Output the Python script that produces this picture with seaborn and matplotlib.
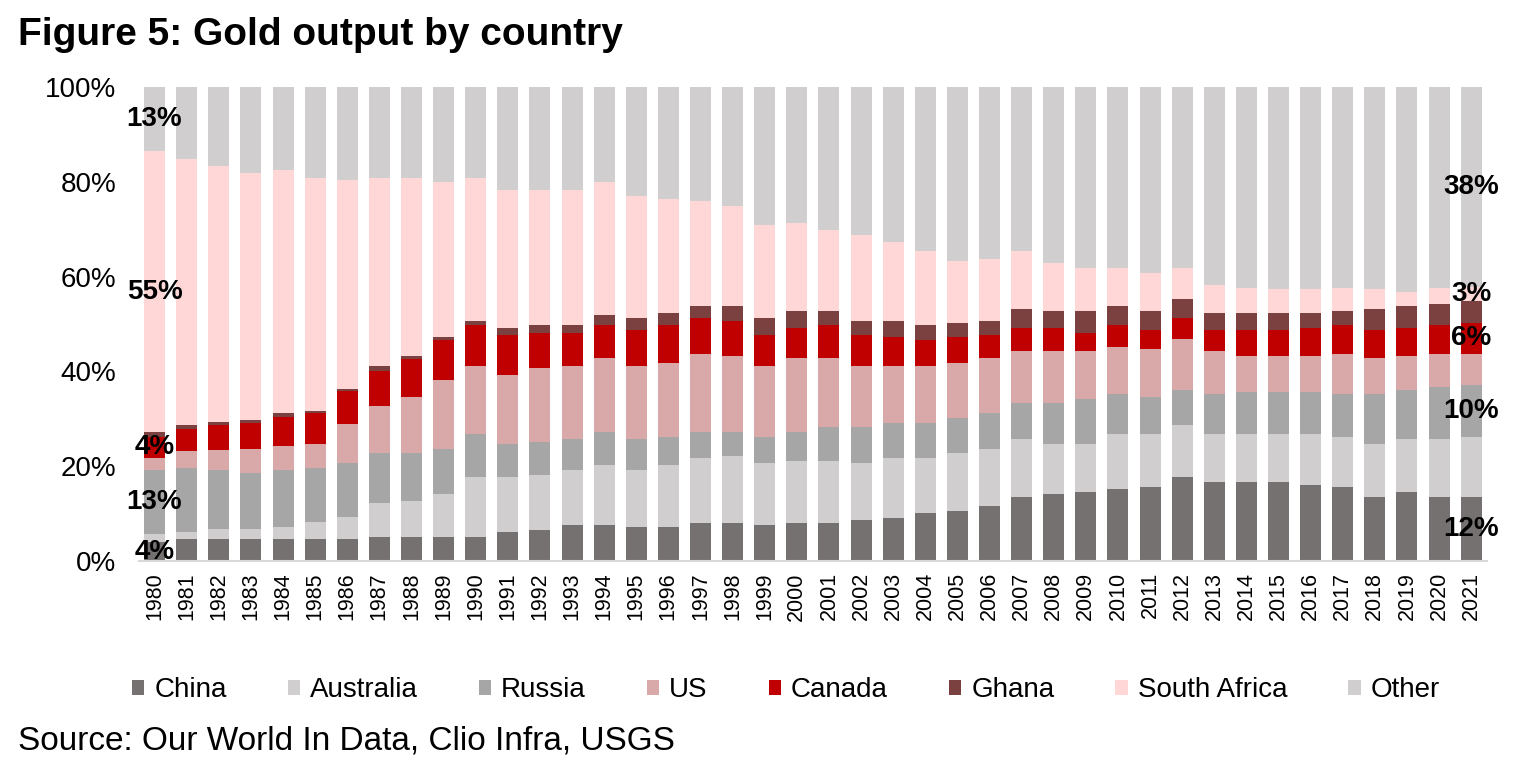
import numpy as np
import pandas as pd
import matplotlib
matplotlib.use("Agg")
import matplotlib.pyplot as plt
from matplotlib.patches import Patch
from matplotlib.ticker import PercentFormatter
import seaborn as sns

years = [str(y) for y in range(1980, 2022)]

china = [4.0, 4.6, 4.6, 4.6, 4.6, 4.6, 4.6, 5.1, 5.1, 5.1, 5.1, 6.1, 6.6, 7.7, 7.7, 7.1, 7.1, 8.1, 8.1, 7.7, 8.1,
         8.1, 8.6, 9.1, 10.1, 10.6, 11.6, 13.6, 14.1, 14.6, 15.1, 15.7, 17.7, 16.7, 16.7, 16.7, 16.1, 15.7, 13.6,
         14.6, 13.6, 13.6]
australia = [1.7, 1.5, 2.1, 2.1, 2.6, 3.6, 4.6, 7.1, 7.6, 9.0, 12.7, 11.7, 11.5, 11.5, 12.6, 12.1, 13.2, 13.6, 14.1,
             13.0, 13.1, 13.1, 12.1, 12.6, 11.6, 12.1, 12.1, 12.1, 10.6, 10.1, 11.6, 11.0, 11.0, 10.0, 10.0, 10.0,
             10.6, 10.5, 11.1, 11.1, 12.1, 12.6]
russia = [13.4, 13.6, 12.4, 11.9, 11.9, 11.5, 11.4, 10.5, 10.0, 9.6, 8.9, 6.9, 7.1, 6.5, 6.9, 6.5, 5.9, 5.5, 5.0,
          5.5, 6.0, 7.0, 7.5, 7.5, 7.5, 7.5, 7.5, 7.6, 8.6, 9.5, 8.5, 8.0, 7.4, 8.5, 9.0, 9.0, 9.0, 9.0, 10.5,
          10.4, 11.0, 11.0]
us = [2.6, 3.6, 4.3, 5.1, 5.2, 5.0, 8.2, 10.0, 12.0, 14.5, 14.5, 14.5, 15.5, 15.5, 15.6, 15.5, 15.5, 16.5, 16.0,
      15.0, 15.6, 14.6, 13.0, 12.0, 12.0, 11.5, 11.6, 10.9, 10.9, 10.0, 10.0, 10.0, 10.7, 9.0, 7.5, 7.5, 7.5, 8.5,
      7.6, 7.1, 7.0, 6.5]
canada = [4.5, 4.5, 5.3, 5.5, 6.0, 6.5, 7.0, 7.4, 8.0, 8.5, 8.5, 8.5, 7.5, 7.0, 6.9, 7.5, 8.0, 7.5, 7.5, 6.5, 6.4,
          6.9, 6.5, 6.0, 5.5, 5.5, 4.9, 5.0, 5.0, 4.0, 4.5, 4.0, 4.4, 4.5, 5.5, 5.5, 6.0, 6.0, 5.9, 6.0, 6.0, 6.6]
ghana = [1.1, 0.8, 0.6, 0.5, 1.0, 0.4, 0.4, 1.1, 0.5, 0.5, 1.0, 1.5, 1.5, 1.5, 2.1, 2.6, 2.6, 2.5, 3.0, 3.6, 3.5,
         3.0, 3.0, 3.5, 3.0, 3.0, 3.0, 4.0, 3.5, 4.5, 4.0, 4.0, 4.1, 3.6, 3.6, 3.6, 3.1, 3.0, 4.5, 4.5, 4.6, 4.5]
south_africa = [59.1, 56.2, 54.1, 52.2, 51.1, 49.3, 44.2, 39.7, 37.7, 32.7, 30.2, 29.1, 28.6, 28.6, 28.1, 25.6,
                24.1, 22.2, 21.1, 19.6, 18.6, 17.1, 18.1, 16.6, 15.6, 13.1, 13.1, 12.1, 10.1, 9.1, 8.1, 8.1, 6.5,
                5.9, 5.4, 5.0, 5.0, 5.0, 4.1, 3.1, 3.4, 3.0]
other = [13.6, 15.2, 16.7, 18.1, 17.7, 19.1, 19.6, 19.1, 19.1, 20.1, 19.1, 21.7, 21.7, 21.7, 20.1, 23.1, 23.6,
         24.1, 25.2, 29.1, 28.7, 30.2, 31.2, 32.7, 34.7, 36.7, 36.2, 34.7, 37.2, 38.2, 38.2, 39.2, 38.2, 41.8,
         42.3, 42.7, 42.7, 42.3, 42.7, 43.2, 42.3, 42.2]

series_names = ["China", "Australia", "Russia", "US", "Canada", "Ghana", "South Africa", "Other"]
series_values = [china, australia, russia, us, canada, ghana, south_africa, other]
colors = ["#767171", "#D0CECE", "#A6A6A6", "#D9A9A9", "#C00000", "#7B4141", "#FFD7D7", "#D0CECE"]

# data labels shown on first and last bar
label_series = ["China", "Russia", "Canada", "South Africa", "Other"]
labels_1980 = ["4%", "13%", "4%", "55%", "13%"]
labels_2021 = ["12%", "10%", "6%", "3%", "38%"]

df = pd.DataFrame({"Year": years})
for name, vals in zip(series_names, series_values):
    df[name] = vals
cum = df[series_names].cumsum(axis=1)

sns.set_style("white")
plt.rcParams["font.family"] = ["Liberation Sans", "DejaVu Sans"]
plt.rcParams["text.color"] = "black"
plt.rcParams["axes.labelcolor"] = "black"

fig = plt.figure(figsize=(15.17, 7.83), dpi=100)
ax = fig.add_axes([0.0913, 0.2835, 0.9804 - 0.0913, 0.8889 - 0.2835])

for name, col in reversed(list(zip(series_names, colors))):
    sns.barplot(data=cum.assign(Year=df["Year"]), x="Year", y=name, order=years, color=col,
                saturation=1, width=0.654, errorbar=None, linewidth=0, ax=ax)

ax.set_xlim(-0.5, len(years) - 0.5)
ax.set_ylim(0, 100)
ax.set_yticks([0, 20, 40, 60, 80, 100])
ax.yaxis.set_major_formatter(PercentFormatter(decimals=0))
ax.set_xlabel("")
ax.set_ylabel("")
ax.tick_params(axis="y", labelsize=20, length=0, pad=16, colors="black")
ax.tick_params(axis="x", labelsize=15.5, length=0, pad=8, labelrotation=90, colors="black")
for s in ["top", "right", "left"]:
    ax.spines[s].set_visible(False)
ax.spines["bottom"].set_color("#D9D9D9")
ax.spines["bottom"].set_linewidth(1.5)

# data labels at segment centres
for idx, texts in [(0, labels_1980), (len(years) - 1, labels_2021)]:
    for sname, txt in zip(label_series, texts):
        top = cum.loc[idx, sname]
        bottom = top - df.loc[idx, sname]
        ax.text(idx, (top + bottom) / 2, txt, ha="center", va="center", fontsize=20,
                fontweight="bold", color="black")

handles = [Patch(facecolor=c, edgecolor="none") for c in colors]
fig.legend(handles, series_names, loc="center", bbox_to_anchor=(0.518, 0.1188), ncol=8, frameon=False,
           fontsize=20, handlelength=0.45, handleheight=0.45, handletextpad=0.35, columnspacing=2.2,
           labelcolor="black")

fig.text(0.0119, 0.943, "Figure 5: Gold output by country", fontsize=28, fontweight="bold",
         ha="left", va="baseline", color="black")
fig.text(0.0119, 0.0536, "Source: Our World In Data, Clio Infra, USGS", fontsize=24, ha="left",
         va="center", color="black")

fig.savefig("out.png", dpi=100)
